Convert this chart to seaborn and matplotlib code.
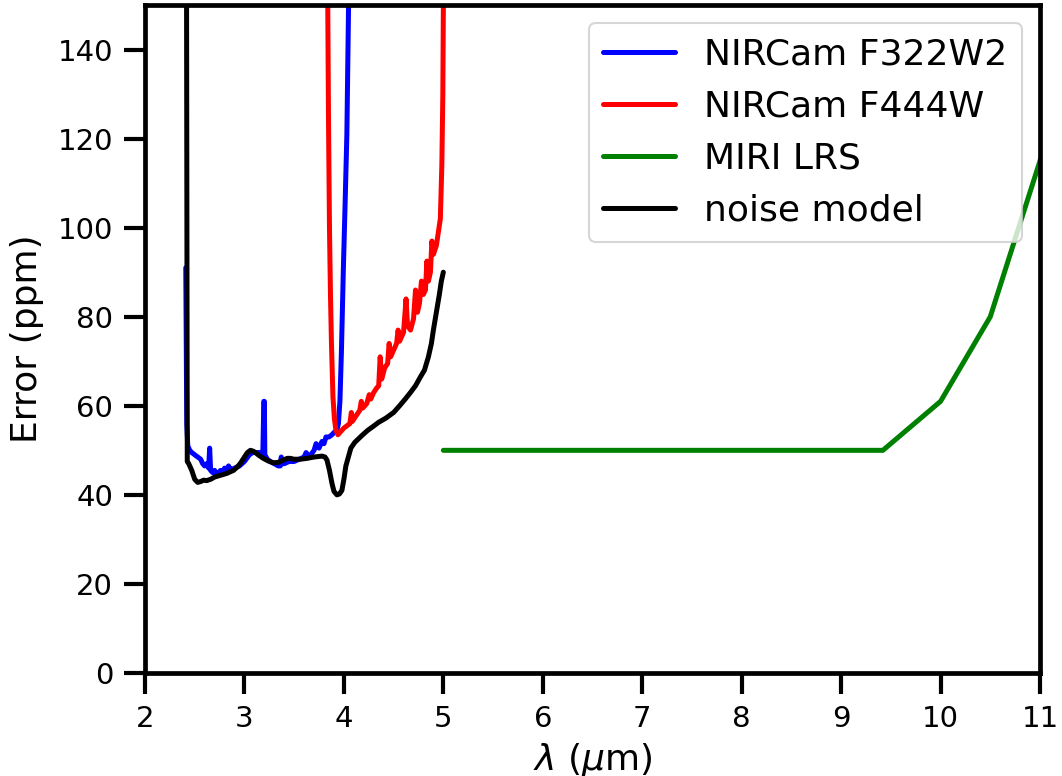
import numpy as np
import pandas as pd
import matplotlib
matplotlib.use("Agg")
import matplotlib.pyplot as plt
import seaborn as sns

# ---- data ----
blue_x = [2.410, 2.420, 2.430, 2.450, 2.470, 2.500, 2.530, 2.560, 2.580, 2.600, 2.620, 2.640,
          2.650, 2.660, 2.680, 2.700, 2.720, 2.740, 2.760, 2.780, 2.800, 2.820, 2.840, 2.850,
          2.860, 2.880, 2.900, 2.950, 3.000, 3.050, 3.080, 3.100, 3.150, 3.185, 3.195, 3.200,
          3.205, 3.230, 3.260, 3.300, 3.340, 3.360, 3.370, 3.380, 3.400, 3.450, 3.500, 3.550,
          3.600, 3.620, 3.650, 3.700, 3.720, 3.750, 3.780, 3.800, 3.820, 3.850, 3.880, 3.900,
          3.930, 3.945, 3.960, 3.975, 3.995, 4.013, 4.030, 4.050]
blue_y = [91, 56, 51, 50, 49.5, 49, 48.5, 48, 47, 46.5, 47, 46,
          50.5, 45.5, 45, 45.5, 44.5, 45, 45.5, 45, 46, 45.5, 46.5, 45.5,
          46, 45.5, 46, 46.5, 47.5, 49, 49.5, 49.5, 49.5, 49.5, 61, 61,
          49, 48, 47.5, 47, 46.5, 46.5, 48.5, 47, 47, 47.5, 47.5, 48,
          48.5, 49.5, 48.5, 50, 51.5, 50.5, 52, 51.5, 53, 53, 53.5, 54,
          54.5, 56, 61, 72, 91, 106, 121, 155]

red_x = [3.835, 3.845, 3.855, 3.865, 3.875, 3.890, 3.905, 3.920, 3.940, 3.960, 3.980, 4.000,
         4.030, 4.060, 4.075, 4.085, 4.100, 4.130, 4.160, 4.175, 4.190, 4.230, 4.255, 4.270,
         4.300, 4.330, 4.350, 4.365, 4.380, 4.410, 4.440, 4.455, 4.470, 4.500, 4.530, 4.545,
         4.560, 4.600, 4.625, 4.640, 4.670, 4.700, 4.720, 4.740, 4.760, 4.780, 4.800, 4.820,
         4.835, 4.850, 4.870, 4.885, 4.900, 4.930, 4.950, 4.970, 4.985, 4.995, 5.003]
red_y = [160, 125, 100, 85, 74, 62, 57, 54.5, 53.5, 54, 54.5, 55,
         55.5, 56, 58.5, 56.5, 57, 58, 59, 61, 59.5, 60.5, 62.5, 61.5,
         63, 64, 64.5, 71, 66, 68.5, 69.5, 74, 71, 72.5, 74, 77,
         74.5, 76.5, 84, 78, 77, 79.5, 86, 81, 83, 88, 85, 86,
         92.5, 88, 90, 97, 94, 96, 99, 102, 114, 130, 160]

green_x = [5.0, 9.42, 10.0, 10.5, 11.0, 11.5]
green_y = [50, 50, 61, 80, 115, 160]

black_x = [2.412, 2.418, 2.425, 2.440, 2.470, 2.500, 2.530, 2.560, 2.590, 2.620, 2.660, 2.700,
           2.760, 2.820, 2.890, 2.930, 2.960, 3.000, 3.030, 3.060, 3.090, 3.110, 3.150, 3.190,
           3.240, 3.290, 3.340, 3.390, 3.430, 3.460, 3.500, 3.560, 3.630, 3.700, 3.780, 3.810,
           3.830, 3.855, 3.880, 3.900, 3.930, 3.955, 3.980, 4.000, 4.020, 4.045, 4.070, 4.110,
           4.180, 4.240, 4.290, 4.350, 4.420, 4.500, 4.560, 4.620, 4.670, 4.720, 4.770, 4.810,
           4.850, 4.880, 4.900, 4.930, 4.960, 4.980, 5.000]
black_y = [300, 150, 47.5, 47, 45.5, 43.5, 42.8, 43, 43.3, 43.2, 43.5, 44,
           44.4, 44.8, 45.5, 46.3, 47.1, 48.5, 49.5, 50, 49.8, 49.5, 48.8, 48.2,
           47.6, 47.2, 47.3, 47.8, 48.2, 48.2, 48.0, 48.0, 48.2, 48.5, 48.7, 48.5,
           47.8, 45.5, 42.6, 40.8, 40.0, 40.2, 41, 43.5, 46.5, 48.5, 50.5, 51.8,
           53.3, 54.5, 55.3, 56.3, 57.2, 58.5, 60, 61.6, 63, 64.5, 66.5, 68,
           71, 74, 77, 81, 85, 88, 90]

labels = ["NIRCam F322W2", "NIRCam F444W", "MIRI LRS", "noise model"]
colors = ["blue", "red", "green", "black"]

sns.set_style("ticks")
plt.rcParams["font.family"] = ["DejaVu Sans"]
plt.rcParams["mathtext.fontset"] = "dejavusans"
for k in ["text.color", "axes.labelcolor", "xtick.color", "ytick.color", "axes.edgecolor"]:
    plt.rcParams[k] = "black"

fig = plt.figure(figsize=(10.62, 7.76), dpi=100)
ax = fig.add_axes([145 / 1062, 1 - 673 / 776, (1040 - 145) / 1062, (673 - 5) / 776])

series = [(blue_x, blue_y), (red_x, red_y), (green_x, green_y), (black_x, black_y)]
for (xs, ys), lab, col in zip(series, labels, colors):
    df = pd.DataFrame({"x": xs, "y": ys})
    sns.lineplot(data=df, x="x", y="y", ax=ax, color=col, label=lab,
                 linewidth=3.6, sort=False, estimator=None)

ax.set_xlim(2, 11)
ax.set_ylim(0, 150)
ax.set_xticks(range(2, 12))
ax.set_yticks(range(0, 141, 20))
ax.set_xlabel(r"$\lambda$ ($\mu$m)", fontsize=26, labelpad=6)
ax.set_ylabel("Error (ppm)", fontsize=26, labelpad=10)
ax.tick_params(axis="both", which="major", labelsize=21, length=15, width=3, pad=8,
               color="black", labelcolor="black")
for sp in ax.spines.values():
    sp.set_linewidth(3.4)
    sp.set_color("black")
    sp.set_visible(True)

leg = ax.legend(loc="upper right", fontsize=26, frameon=True, fancybox=True)
leg.get_frame().set_edgecolor("#cccccc")
leg.get_frame().set_linewidth(1.5)
for line in leg.get_lines():
    line.set_linewidth(3.6)

fig.savefig("out.png", dpi=100)
